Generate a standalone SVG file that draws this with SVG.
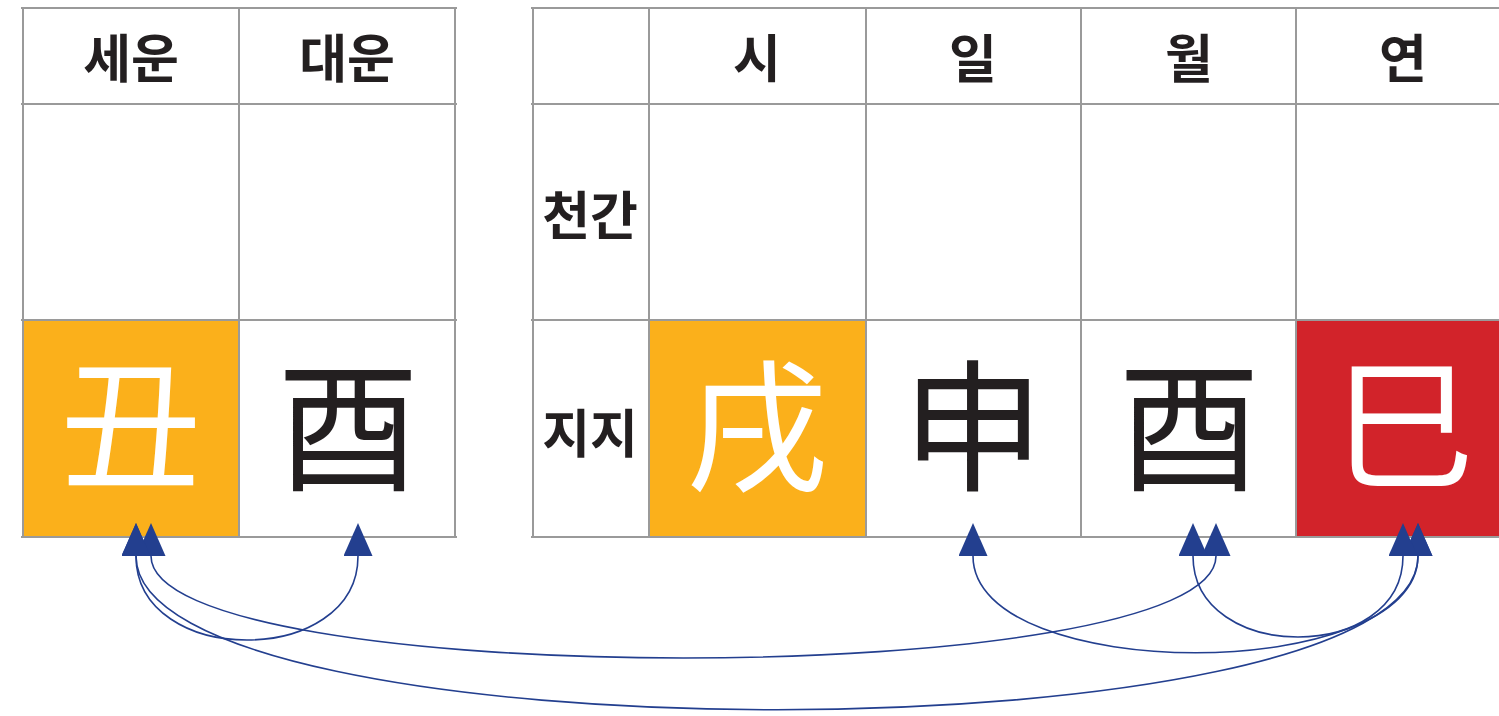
<svg xmlns="http://www.w3.org/2000/svg" width="1499" height="716" viewBox="0 0 1499 716">
<style>
.grid{stroke:#9a9a9a;stroke-width:2;fill:none}
.hd{font-family:"Noto Sans CJK KR","Noto Sans",sans-serif;font-weight:bold;font-size:52px;fill:#231f20;text-anchor:middle;dominant-baseline:central}
.big{font-family:"Noto Sans CJK KR","Noto Sans CJK SC",sans-serif;font-size:142px;text-anchor:middle;dominant-baseline:central}
.w{fill:#ffffff}
.k{fill:#231f20}
.arc{stroke:#233f8f;stroke-width:1.6;fill:none;marker-start:url(#ah);marker-end:url(#ah)}
</style>
<defs>
<marker id="ah" markerUnits="userSpaceOnUse" viewBox="0 0 33 29" refX="0" refY="14.5" markerWidth="33" markerHeight="29" orient="auto-start-reverse">
<path d="M0,0 L33,14.5 L0,29 Z" fill="#233f8f"/>
</marker>
</defs>
<rect width="1499" height="716" fill="#ffffff"/>
<!-- cell fills -->
<rect x="23" y="320" width="216" height="217" fill="#fbb01b"/>
<rect x="649" y="320" width="217" height="217" fill="#fbb01b"/>
<rect x="1296" y="320" width="203" height="217" fill="#d2232a"/>
<g id="grid" class="grid">
<path d="M21,8 H457 M21,104 H457 M21,320 H457 M21,537 H457 M23,8 V537 M239,8 V537 M455,8 V537"/>
<path d="M531,8 H1499 M531,104 H1499 M531,320 H1499 M531,537 H1499 M533,8 V537 M649,8 V537 M866,8 V537 M1081,8 V537 M1296,8 V537"/>
</g>
<g id="h-seun"><text class="hd" x="131" y="55">세운</text></g>
<g id="h-daeun"><text class="hd" x="347" y="55">대운</text></g>
<g id="h-si"><text class="hd" x="757" y="55">시</text></g>
<g id="h-il"><text class="hd" x="973" y="55">일</text></g>
<g id="h-wol"><text class="hd" x="1189" y="55">월</text></g>
<g id="h-yeon"><text class="hd" x="1403" y="55">연</text></g>
<g id="r-cheongan"><text class="hd" x="590" y="212">천간</text></g>
<g id="r-jiji"><text class="hd" x="590" y="430">지지</text></g>
<g id="n-chuk"><text class="big w" x="131" y="416">丑</text></g>
<g id="n-yu1"><text class="big k" x="348" y="418">酉</text></g>
<g id="n-sul"><text class="big w" x="757" y="418">戌</text></g>
<g id="n-sin"><text class="big k" x="973" y="418">申</text></g>
<g id="n-yu2"><text class="big k" x="1189" y="418">酉</text></g>
<g id="n-sa"><text class="big w" x="1404" y="416">巳</text></g>
<g id="connectors">
<path class="arc" d="M136,556 C136,668 358,668 358,556"/>
<path class="arc" d="M151,556 C151,692 1216,692 1216,556"/>
<path class="arc" d="M136,556 C136,761 1418,761 1418,556"/>
<path class="arc" d="M973,556 C973,685 1418,685 1418,556"/>
<path class="arc" d="M1193,556 C1193,664 1403,664 1403,556"/>
</g>
</svg>
